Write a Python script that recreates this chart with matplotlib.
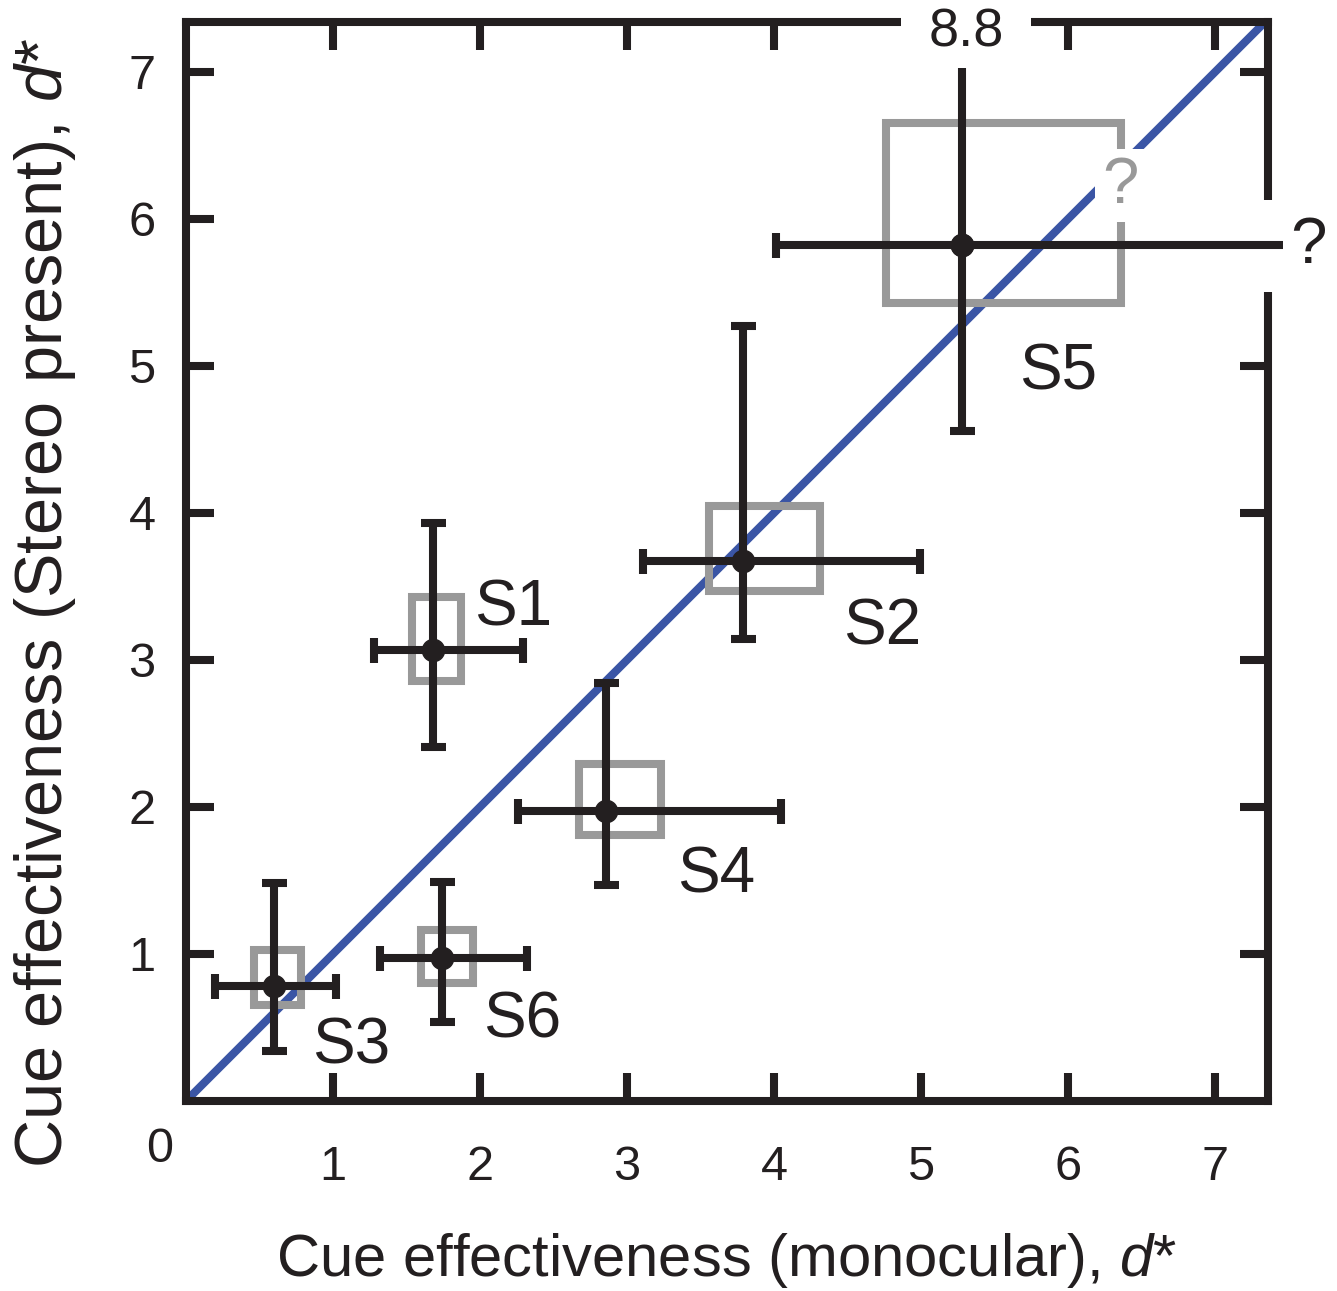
import matplotlib
matplotlib.use("Agg")
import matplotlib.pyplot as plt
from matplotlib.patches import Rectangle

plt.rcParams['font.family'] = ['Liberation Sans', 'DejaVu Sans']
plt.rcParams['mathtext.fontset'] = 'custom'
plt.rcParams['mathtext.rm'] = 'Liberation Sans'
plt.rcParams['mathtext.it'] = 'Liberation Sans:italic'

# subjects, d* monocular (x) vs d* stereo present (y), with error bar ends
subjects = ['S3', 'S6', 'S1', 'S4', 'S2', 'S5']
mono = [0.60, 1.74, 1.68, 2.86, 3.79, 5.28]
stereo = [0.78, 0.97, 3.07, 1.97, 3.67, 5.82]
mono_lo = [0.20, 1.32, 1.28, 2.26, 3.11, 4.01]
mono_hi = [1.02, 2.32, 2.29, 4.05, 4.99, 7.46]   # S5 open ended ("?")
stereo_lo = [0.34, 0.54, 2.41, 1.47, 3.14, 4.56]
stereo_hi = [1.48, 1.49, 3.93, 2.84, 5.27, 7.03]  # S5 goes up to 8.8

# gray boxes (second estimate)
box_x0 = [0.46, 1.60, 1.54, 2.67, 3.56, 4.76]
box_x1 = [0.78, 1.95, 1.87, 3.23, 4.31, 6.36]
box_y0 = [0.65, 0.80, 2.86, 1.81, 3.47, 5.43]
box_y1 = [1.03, 1.16, 3.43, 2.29, 4.05, 6.65]

ticks = [1, 2, 3, 4, 5, 6, 7]

ink = '#231f20'
gray = '#999999'
blue = '#3a55a5'
lw = 5.8

fig = plt.figure(figsize=(13.37, 12.91), dpi=100)
ax = fig.add_axes([0.1391, 0.1472, 0.8093, 0.8358])
ax.set_xlim(0, 7.36)
ax.set_ylim(0, 7.34)

# unity line
ax.axline((0, 0), slope=1, color=blue, lw=lw, zorder=1, solid_capstyle='butt')

for i in range(len(subjects)):
    ax.add_patch(Rectangle((box_x0[i], box_y0[i]), box_x1[i] - box_x0[i], box_y1[i] - box_y0[i],
                           fill=False, ec=gray, lw=lw, zorder=2, joinstyle='miter'))

ebkw = dict(fmt='o', ms=16, color=ink, lw=lw, capthick=lw, zorder=5)
for i in range(len(subjects) - 1):
    ax.errorbar(mono[i], stereo[i],
                xerr=[[mono[i] - mono_lo[i]], [mono_hi[i] - mono[i]]],
                yerr=[[stereo[i] - stereo_lo[i]], [stereo_hi[i] - stereo[i]]],
                capsize=9, **ebkw)

# S5: capped on the low side, open on the high side
i = len(subjects) - 1
ax.errorbar(mono[i], stereo[i], xerr=[[mono[i] - mono_lo[i]], [0]],
            yerr=[[stereo[i] - stereo_lo[i]], [0]], capsize=9, **ebkw)
eb = ax.errorbar(mono[i], stereo[i], xerr=[[0], [mono_hi[i] - mono[i]]],
                 yerr=[[0], [stereo_hi[i] - stereo[i]]], capsize=0, **ebkw)
for art in eb.get_children():
    art.set_clip_on(False)

# subject labels
label_x = [1.122, 2.286, 2.224, 3.605, 4.735, 5.932]
label_y = [0.252, 0.435, 3.231, 1.415, 3.102, 4.837]
for i, s in enumerate(subjects):
    ax.text(label_x[i], label_y[i], s, fontsize=46, color=ink, ha='center', va='baseline', zorder=6)

# out of range annotations (white boxes break the spines / lines)
ax.text(5.306, 7.17, '8.8', fontsize=39, color=ink, ha='center', va='baseline', zorder=3,
        bbox=dict(boxstyle='square,pad=0.5', fc='white', ec='none'))
ax.text(7.577, 5.70, ' ?', fontsize=47, color=ink, ha='center', va='baseline', zorder=3,
        bbox=dict(boxstyle='square,pad=0.25', fc='white', ec='none'))
ax.text(6.354, 6.109, '?', fontsize=47, color=gray, ha='center', va='baseline', zorder=3,
        bbox=dict(boxstyle='square,pad=0.1', fc='white', ec='none'))
ax.text(-0.177, -0.415, '0', fontsize=35, color=ink, ha='center', va='baseline')

ax.set_xticks(ticks)
ax.set_yticks(ticks)
ax.tick_params(direction='in', length=20, width=lw, top=True, right=True,
               labelsize=35, colors=ink)
ax.tick_params(axis='x', pad=32)
ax.tick_params(axis='y', pad=22)
# right-hand tick at 6 sits in the gap left for the "?"
ax.yaxis.get_major_ticks()[5].tick2line.set_visible(False)
for sp in ax.spines.values():
    sp.set_linewidth(lw)
    sp.set_color(ink)
    sp.set_capstyle('projecting')

ax.set_xlabel('Cue effectiveness (monocular), $\\mathit{d}$*', fontsize=43, color=ink)
ax.set_ylabel('Cue effectiveness (Stereo present), $\\mathit{d}$*', fontsize=48, color=ink)
ax.xaxis.set_label_coords(0.5, -0.1205)
ax.yaxis.set_label_coords(-0.0998, 0.4616)

fig.savefig('out.png', dpi=100)
